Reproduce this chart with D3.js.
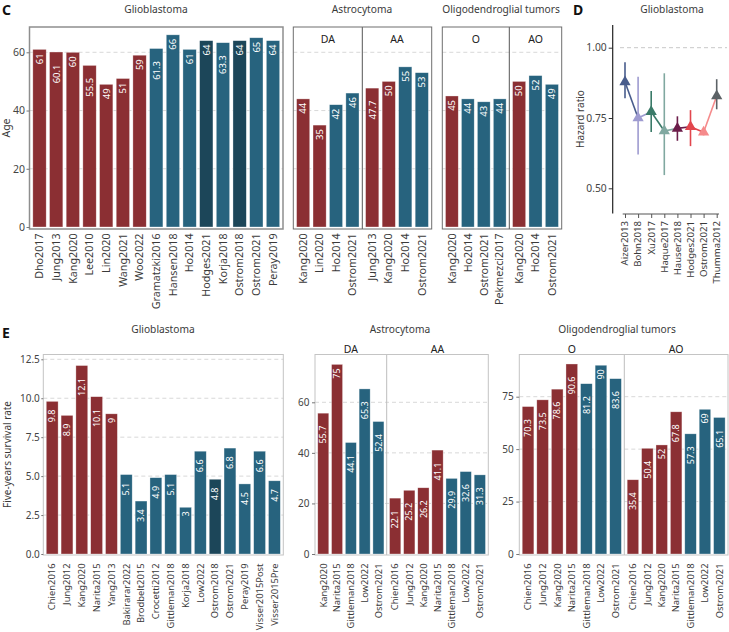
<!DOCTYPE html>
<html><head><meta charset="utf-8">
<script src="https://cdn.jsdelivr.net/npm/d3@7/dist/d3.min.js"></script>
<style>
body{margin:0;background:#fff}
svg{display:block;font-family:'Noto Sans',sans-serif}
</style></head>
<body><svg id="chart" width="729" height="632"></svg>
<script>
// ---------------- DATA ----------------
// Panel C: median age
const cGbmStudies = ["Dho2017","Jung2013","Kang2020","Lee2010","Lin2020","Wang2021","Woo2022","Gramatzki2016","Hansen2018","Ho2014","Hodges2021","Korja2018","Ostrom2018","Ostrom2021","Peray2019"];
const cGbmAges    = [61,60.1,60,55.5,49,51,59,61.3,66,61,64,63.3,64,65,64];
const cGbmGroups  = ["r","r","r","r","r","r","r","b","b","b","d","b","d","b","b"];

const cDaStudies = ["Kang2020","Lin2020","Ho2014","Ostrom2021"];
const cDaAges    = [44,35,42,46];
const cDaGroups  = ["r","r","b","b"];
const cAaStudies = ["Jung2013","Kang2020","Ho2014","Ostrom2021"];
const cAaAges    = [47.7,50,55,53];
const cAaGroups  = ["r","r","b","b"];

const cOStudies = ["Kang2020","Ho2014","Ostrom2021","Pekmezci2017"];
const cOAges    = [45,44,43,44];
const cOGroups  = ["r","b","b","b"];
const cAoStudies = ["Kang2020","Ho2014","Ostrom2021"];
const cAoAges    = [50,52,49];
const cAoGroups  = ["r","b","b"];

const cAgeTicks = [0,20,40,60];

// Panel D: hazard ratios
const dStudies = ["Aizer2013","Bohn2018","Xu2017","Haque2017","Hauser2018","Hodges2021","Ostrom2021","Thumma2012"];
const dHR      = [0.878,0.75,0.772,0.704,0.713,0.719,0.699,0.828];
const dLower   = [0.82,0.62,0.70,0.547,0.669,0.65,0.688,0.781];
const dUpper   = [0.948,0.897,0.846,0.909,0.756,0.778,0.712,0.888];
const dColors  = ["#485C8C","#9E9BD0","#3A7A68","#80A8A0","#6C1D4A","#E2464D","#F58A8B","#5C6266"];
const dTicks   = [0.50,0.75,1.00];

// Panel E: five-year survival rate
const eGbmStudies = ["Chien2016","Jung2012","Kang2020","Narita2015","Yang2013","Bakirarar2022","Brodbelt2015","Crocetti2012","Gittleman2018","Korja2018","Low2022","Ostrom2018","Ostrom2021","Peray2019","Visser2015Post","Visser2015Pre"];
const eGbmRates   = [9.8,8.9,12.1,10.1,9,5.1,3.4,4.9,5.1,3,6.6,4.8,6.8,4.5,6.6,4.7];
const eGbmGroups  = ["r","r","r","r","r","b","b","b","b","b","b","d","b","b","b","b"];
const eGbmTicks   = [0,2.5,5,7.5,10,12.5];

const eDaStudies = ["Kang2020","Narita2015","Gittleman2018","Low2022","Ostrom2021"];
const eDaRates   = [55.7,75,44.1,65.3,52.4];
const eDaGroups  = ["r","r","b","b","b"];
const eAaStudies = ["Chien2016","Jung2012","Kang2020","Narita2015","Gittleman2018","Low2022","Ostrom2021"];
const eAaRates   = [22.1,25.2,26.2,41.1,29.9,32.6,31.3];
const eAaGroups  = ["r","r","r","r","b","b","b"];
const eAstroTicks = [0,20,40,60];

const eOStudies = ["Chien2016","Jung2012","Kang2020","Narita2015","Gittleman2018","Low2022","Ostrom2021"];
const eORates   = [70.3,73.5,78.6,90.6,81.2,90,83.6];
const eOGroups  = ["r","r","r","r","b","b","b"];
const eAoStudies = ["Chien2016","Jung2012","Kang2020","Narita2015","Gittleman2018","Low2022","Ostrom2021"];
const eAoRates   = [35.4,50.4,52,67.8,57.3,69,65.1];
const eAoGroups  = ["r","r","r","r","b","b","b"];
const eOligoTicks = [0,25,50,75];

// ---------------- STYLE ----------------
const fillFor = {r:"#8B2F33", b:"#27637E", d:"#1C4659"};
const svg = d3.select("#chart");
const txt = "#3a3a3a";

function label(x, y, s, opts={}) {
  const t = svg.append("text").attr("x", x).attr("y", y).text(s)
    .attr("font-size", opts.size || 10).attr("fill", opts.fill || txt)
    .attr("text-anchor", opts.anchor || "middle");
  if (opts.weight) t.attr("font-weight", opts.weight);
  if (opts.rotate) t.attr("transform", `rotate(-90,${x},${y})`);
  return t;
}

function valueOffset(s) {
  const n = s.length;
  return n <= 2 ? 4 : 4 + 4.25 * (n - 2);
}

function barPanel(o) {
  const g = svg.append("g");
  const y = o.y;
  // grid
  g.selectAll(".grid").data(o.grid).enter().append("line")
    .attr("x1", o.x0).attr("x2", o.x1)
    .attr("y1", d => y(d)).attr("y2", d => y(d))
    .attr("stroke", "#d4d4d4").attr("stroke-width", 0.9)
    .attr("stroke-dasharray", "4,3");
  o.facets.forEach((f, fi) => {
    const band = d3.scaleBand().domain(f.studies).range([f.x0, f.x1])
      .paddingInner(0.2).paddingOuter(0.2);
    const rows = f.studies.map((s, i) => ({s, v: f.values[i], grp: f.groups[i]}));
    g.selectAll(null).data(rows).enter().append("rect")
      .attr("x", d => band(d.s)).attr("width", band.bandwidth())
      .attr("y", d => y(d.v)).attr("height", d => y(0) - y(d.v))
      .attr("fill", d => fillFor[d.grp])
      .attr("stroke", "rgba(255,255,255,0.55)").attr("stroke-width", 0.6);
    g.selectAll(null).data(rows).enter().append("text")
      .attr("transform", d => `translate(${band(d.s) + band.bandwidth()/2},${y(d.v) + valueOffset(String(d.v))}) rotate(-90)`)
      .attr("text-anchor", "end").attr("dy", "0.35em")
      .attr("font-size", o.valueSize).attr("fill", "#fff")
      .text(d => String(d.v));
    g.selectAll(null).data(rows).enter().append("text")
      .attr("transform", d => `translate(${band(d.s) + band.bandwidth()/2},${o.labelTop}) rotate(-90)`)
      .attr("text-anchor", "end").attr("dy", "0.35em")
      .attr("font-size", o.labelSize).attr("fill", txt)
      .text(d => d.s);
    if (f.label) {
      g.append("text").attr("x", (f.x0 + f.x1) / 2).attr("y", o.stripY)
        .attr("text-anchor", "middle").attr("font-size", o.stripSize).attr("fill", "#222")
        .text(f.label);
    }
    if (fi > 0) {
      g.append("line").attr("x1", f.x0).attr("x2", f.x0)
        .attr("y1", o.y0).attr("y2", o.y1)
        .attr("stroke", o.divider).attr("stroke-width", 1);
    }
  });
  g.append("rect").attr("x", o.x0).attr("y", o.y0)
    .attr("width", o.x1 - o.x0).attr("height", o.y1 - o.y0)
    .attr("fill", "none").attr("stroke", o.frame).attr("stroke-width", o.frameWidth);
  if (o.axisTicks) {
    const ax = svg.append("g").attr("transform", `translate(${o.x0},0)`)
      .call(d3.axisLeft(y).tickValues(o.axisTicks).tickSize(o.tickSize).tickPadding(o.tickPad)
        .tickFormat(o.fmt));
    ax.select(".domain").remove();
    ax.selectAll("line").attr("stroke", "#777");
    ax.selectAll("text").attr("font-size", o.tickFont).attr("fill", "#444")
      .attr("font-family", "'Noto Sans',sans-serif");
  }
}

// ---------------- PANEL C ----------------
label(2, 15, "C", {size: 14, weight: "bold", anchor: "start", fill: "#111"});
label(156, 13, "Glioblastoma", {size: 10.2});
label(362, 13, "Astrocytoma", {size: 10.2});
label(501, 13, "Oligodendroglial tumors", {size: 10.2});
label(10, 128, "Age", {size: 10.5, rotate: true});

const yC = d3.scaleLinear().domain([0, 60]).range([227, 52.3]);
const cCommon = {y: yC, y0: 27, y1: 229, grid: [20,40,60], valueSize: 9.5, labelSize: 10.7,
  labelTop: 233.5, stripY: 43, stripSize: 10.5, frame: "#6e6e6e", frameWidth: 1, divider: "#555"};

barPanel(Object.assign({}, cCommon, {x0: 29.5, x1: 283, frame: "#8e8e8e", frameWidth: 1.5,
  facets: [{x0: 29.5, x1: 283, studies: cGbmStudies, values: cGbmAges, groups: cGbmGroups}],
  axisTicks: cAgeTicks, tickSize: 3, tickPad: 1.5, tickFont: 10.5, fmt: d3.format("d")}));
barPanel(Object.assign({}, cCommon, {x0: 293.3, x1: 431.7,
  facets: [{x0: 293.3, x1: 362.3, label: "DA", studies: cDaStudies, values: cDaAges, groups: cDaGroups},
           {x0: 362.3, x1: 431.7, label: "AA", studies: cAaStudies, values: cAaAges, groups: cAaGroups}]}));
barPanel(Object.assign({}, cCommon, {x0: 442.3, x1: 561.7,
  facets: [{x0: 442.3, x1: 509.3, label: "O", studies: cOStudies, values: cOAges, groups: cOGroups},
           {x0: 509.3, x1: 561.7, label: "AO", studies: cAoStudies, values: cAoAges, groups: cAoGroups}]}));

// ---------------- PANEL D ----------------
label(573, 15, "D", {size: 14, weight: "bold", anchor: "start", fill: "#111"});
label(672, 13, "Glioblastoma", {size: 10.2});
label(584, 119, "Hazard ratio", {size: 10, rotate: true});

const xD = d3.scalePoint().domain(dStudies).range([625, 716.7]);
const yD = d3.scaleLinear().domain([0.5, 1.0]).range([188.3, 47.7]);
const dg = svg.append("g");
dg.append("line").attr("x1", 620).attr("x2", 727).attr("y1", yD(1)).attr("y2", yD(1))
  .attr("stroke", "#c8c8c8").attr("stroke-dasharray", "4,3").attr("stroke-width", 1);
const dRows = dStudies.map((s, i) => ({s, v: dHR[i], lo: dLower[i], hi: dUpper[i], c: dColors[i]}));
// connecting segments
dg.selectAll(null).data(dRows.slice(0, -1)).enter().append("line")
  .attr("x1", d => xD(d.s)).attr("y1", d => yD(d.v))
  .attr("x2", (d, i) => xD(dRows[i+1].s)).attr("y2", (d, i) => yD(dRows[i+1].v))
  .attr("stroke", d => d.c).attr("stroke-width", 1.6);
// error bars
dg.selectAll(null).data(dRows).enter().append("line")
  .attr("x1", d => xD(d.s)).attr("x2", d => xD(d.s))
  .attr("y1", d => yD(d.lo)).attr("y2", d => yD(d.hi))
  .attr("stroke", d => d.c).attr("stroke-width", 1.6);
// points
dg.selectAll(null).data(dRows).enter().append("path")
  .attr("d", d3.symbol().type(d3.symbolTriangle).size(55))
  .attr("transform", d => `translate(${xD(d.s)},${yD(d.v)})`)
  .attr("fill", d => d.c);
// axes
const yAxD = svg.append("g").attr("transform", "translate(612.7,0)")
  .call(d3.axisLeft(yD).tickValues(dTicks).tickSize(4).tickPadding(2).tickFormat(d3.format(".2f")));
yAxD.select(".domain").remove();
yAxD.selectAll("line").attr("stroke", "#333");
yAxD.selectAll("text").attr("font-size", 10.3).attr("fill", "#444").attr("font-family", "'Noto Sans',sans-serif");
svg.append("line").attr("x1", 612.7).attr("x2", 612.7).attr("y1", 25).attr("y2", 213.5)
  .attr("stroke", "#222").attr("stroke-width", 1.2);
const xAxD = svg.append("g").attr("transform", "translate(0,214)")
  .call(d3.axisBottom(xD).tickSize(4).tickFormat(""));
xAxD.select(".domain").attr("d", "M622.7,0H719").attr("stroke", "#555").attr("stroke-width", 1.2);
xAxD.selectAll("line").attr("stroke", "#555");
svg.append("g").selectAll("text").data(dStudies).enter().append("text")
  .attr("transform", d => `translate(${xD(d)},221) rotate(-90)`)
  .attr("text-anchor", "end").attr("dy", "0.35em")
  .attr("font-size", 9.6).attr("fill", txt).text(d => d);

// ---------------- PANEL E ----------------
label(2, 338, "E", {size: 14, weight: "bold", anchor: "start", fill: "#111"});
label(163, 333, "Glioblastoma", {size: 10.2});
label(400, 333, "Astrocytoma", {size: 10.2});
label(617, 333, "Oligodendroglial tumors", {size: 10.2});
label(11, 454.5, "Five-years survival rate", {size: 10, rotate: true});

const eCommon = {y0: 354.5, y1: 555, valueSize: 9, labelSize: 9.4, labelTop: 563.5,
  stripY: 352.5, stripSize: 10.5, frame: "#c4c4c4", frameWidth: 1, divider: "#bdbdbd",
  tickFont: 10, tickSize: 3, tickPad: 2.5};

const yEg = d3.scaleLinear().domain([0, 12.5]).range([554, 359.3]);
barPanel(Object.assign({}, eCommon, {y: yEg, x0: 43.3, x1: 283.3, grid: [2.5,5,7.5,10,12.5],
  facets: [{x0: 43.3, x1: 283.3, studies: eGbmStudies, values: eGbmRates, groups: eGbmGroups}],
  axisTicks: eGbmTicks, tickSize: 2, tickPad: 1.5, fmt: d3.format(".1f")}));

const yEa = d3.scaleLinear().domain([0, 60]).range([554, 402.3]);
barPanel(Object.assign({}, eCommon, {y: yEa, x0: 315, x1: 488.3, grid: [20,40,60],
  facets: [{x0: 315, x1: 386.7, label: "DA", studies: eDaStudies, values: eDaRates, groups: eDaGroups},
           {x0: 386.7, x1: 488.3, label: "AA", studies: eAaStudies, values: eAaRates, groups: eAaGroups}],
  axisTicks: eAstroTicks, fmt: d3.format("d")}));

const yEo = d3.scaleLinear().domain([0, 75]).range([554, 396.7]);
barPanel(Object.assign({}, eCommon, {y: yEo, x0: 519.3, x1: 728, grid: [25,50,75],
  facets: [{x0: 519.3, x1: 624.3, label: "O", studies: eOStudies, values: eORates, groups: eOGroups},
           {x0: 624.3, x1: 728, label: "AO", studies: eAoStudies, values: eAoRates, groups: eAoGroups}],
  axisTicks: eOligoTicks, fmt: d3.format("d")}));
</script>
</body></html>
